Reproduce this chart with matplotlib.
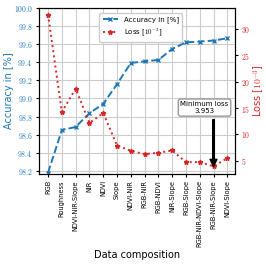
import numpy as np
import matplotlib
matplotlib.use('Agg')
from matplotlib import pyplot as plt
from matplotlib.ticker import FormatStrFormatter, MultipleLocator

plt.rcParams['mathtext.fontset'] = 'cm'

compositions = ['RGB', 'Roughness', 'NDVI-NIR-Slope', 'NIR', 'NDVI', 'Slope',
                'NDVI-NIR', 'RGB-NIR', 'RGB-NDVI', 'NIR-Slope', 'RGB-Slope',
                'RGB-NIR-NDVI-Slope', 'RGB-NIR-Slope', 'NDVI-Slope']
accuracy = [98.18, 98.65, 98.685, 98.836, 98.94, 99.157, 99.392, 99.41,
            99.425, 99.547, 99.62, 99.628, 99.64, 99.665]
loss = [32.76, 14.26, 18.7, 12.17, 14.07, 7.9, 6.9, 6.27, 6.52, 6.96,
        4.75, 4.75, 3.953, 5.5]

blue = '#1f77b4'
red = '#d62728'
x = np.arange(len(compositions))

fig = plt.figure(figsize=(2.66, 2.66), dpi=100)
ax = fig.add_axes([0.147, 0.346, 0.736, 0.624])
ax2 = ax.twinx()

l1, = ax.plot(x, accuracy, color=blue, linestyle='--', linewidth=1.4,
              marker='x', markersize=2.5, markeredgewidth=1.0,
              label='Accuracy in [%]')
l2, = ax2.plot(x, loss, color=red, linestyle=':', linewidth=1.4,
               marker='*', markersize=3.5, label=r'Loss [$10^{-3}$]')

ax.set_xlim(-0.65, 13.55)
ax.set_ylim(98.165, 100.0)
ax2.set_ylim(2.5, 34.0)

ax.set_xticks(x)
ax.set_xticklabels(compositions, rotation=90, fontsize=4.8)
ax.yaxis.set_major_locator(MultipleLocator(0.2))
ax.yaxis.set_major_formatter(FormatStrFormatter(r'$%.1f$'))
ax2.yaxis.set_major_locator(MultipleLocator(5))
ax2.yaxis.set_major_formatter(FormatStrFormatter(r'$%d$'))
ax.tick_params(axis='y', labelcolor=blue, labelsize=5.5, length=2.5, pad=2)
ax.tick_params(axis='x', length=2.5, pad=2)
ax2.tick_params(axis='y', labelcolor=red, labelsize=5.5, length=2.5, pad=2)

ax.grid(True, color='#cccccc', linewidth=0.8)
ax.set_axisbelow(True)

ax.set_ylabel('Accuracy in [%]', color=blue, fontsize=7, labelpad=0)
ax2.set_ylabel(r'Loss [$10^{-3}$]', color=red, fontsize=7, labelpad=1)
ax.set_xlabel('Data composition', fontsize=7, labelpad=2)

ax.legend(handles=[l1, l2], loc='upper left', bbox_to_anchor=(0.29, 0.99),
          fontsize=5, handlelength=2.2, framealpha=1.0, borderpad=0.5)

ax2.annotate('', xy=(12, loss[12]), xytext=(12, 12.8),
             arrowprops=dict(facecolor='black', edgecolor='black', width=1.2,
                             headwidth=5, headlength=5))
ax2.text(11.35, 15.1, 'Minimum loss\n3.953', ha='center', va='center',
         fontsize=5, bbox=dict(boxstyle='round,pad=0.3', fc='white', ec='#999999'))

fig.savefig('out.png', dpi=100)
